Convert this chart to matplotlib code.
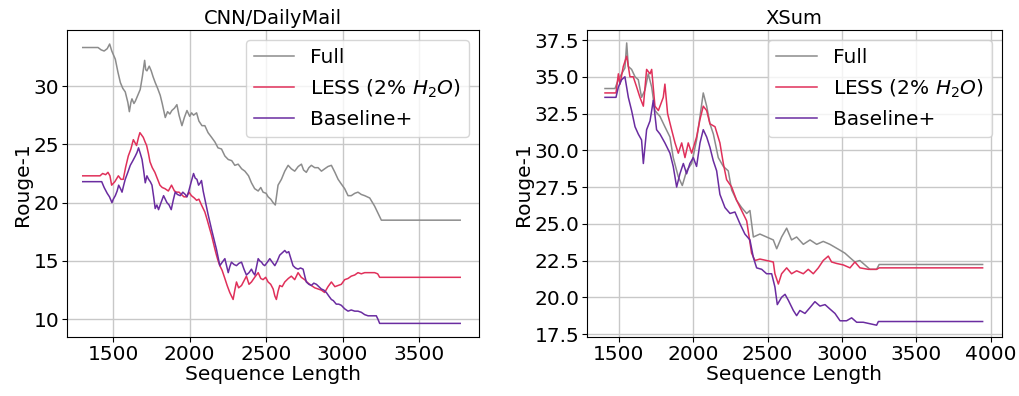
import matplotlib
matplotlib.use("Agg")
import matplotlib.pyplot as plt

# ---------------- CNN/DailyMail ----------------
cnn_full_x = [1300,1400,1420,1440,1460,1476,1490,1513,1530,1546,1562,1578,1595,1605,1615,1622,1635,1644,1660,1676,1690,1705,1712,1720,1735,1748,1760,1774,1790,1807,1820,1840,1855,1870,1883,1900,1916,1930,1949,1965,1982,2000,2012,2025,2045,2060,2080,2099,2120,2143,2165,2185,2208,2230,2252,2275,2295,2317,2340,2361,2385,2404,2425,2448,2465,2480,2500,2513,2530,2546,2560,2578,2600,2622,2644,2665,2687,2710,2731,2745,2763,2780,2796,2818,2840,2862,2883,2905,2927,2950,2971,2992,3014,3036,3057,3080,3101,3123,3145,3178,3210,3232,3254,3770]
cnn_full_y = [33.3,33.3,33.1,33.0,33.2,33.6,33.0,32.3,31.2,30.3,29.8,29.5,28.6,27.8,28.6,28.9,28.5,28.7,29.2,29.7,30.8,32.2,31.4,31.3,31.7,31.3,30.8,30.3,29.8,29.2,28.5,27.3,27.8,27.6,27.9,28.1,28.4,27.5,26.6,27.3,27.9,27.4,27.7,27.5,27.7,27.0,26.6,26.6,26.0,25.6,25.2,24.7,24.6,24.0,23.7,23.6,23.2,23.3,22.9,22.7,22.3,21.7,21.2,21.0,21.3,20.9,20.8,20.5,20.3,20.0,19.8,21.5,22.0,22.7,23.2,22.9,22.7,23.1,23.3,22.8,22.6,23.0,23.2,23.0,23.0,22.7,22.9,23.1,23.2,22.6,22.0,21.6,21.2,20.6,20.6,20.8,20.9,20.7,20.6,20.4,19.7,19.1,18.5,18.5]

cnn_less_x = [1300,1413,1430,1450,1465,1478,1489,1510,1533,1550,1565,1580,1598,1615,1631,1652,1665,1674,1685,1696,1708,1718,1730,1740,1755,1772,1790,1805,1820,1838,1860,1881,1900,1914,1930,1946,1962,1979,1995,2011,2030,2045,2060,2077,2099,2115,2132,2143,2154,2165,2175,2186,2197,2212,2230,2245,2262,2284,2295,2306,2320,2339,2355,2371,2388,2404,2425,2448,2465,2480,2497,2513,2530,2546,2557,2567,2578,2589,2605,2622,2645,2665,2687,2709,2730,2752,2775,2796,2818,2840,2862,2883,2905,2927,2950,2971,2992,3014,3036,3057,3080,3101,3123,3145,3178,3210,3230,3243,3770]
cnn_less_y = [22.3,22.3,22.5,22.4,22.6,22.3,21.5,21.8,22.3,22.0,22.0,23.0,24.0,24.6,25.4,24.9,25.6,26.0,25.8,25.6,25.2,24.9,24.2,23.5,23.0,22.6,22.0,21.5,21.3,21.2,21.0,21.5,21.0,20.9,20.9,20.7,20.5,20.5,20.9,20.6,20.4,20.2,20.3,19.8,19.2,18.5,17.7,17.2,16.6,16.0,15.5,15.0,14.6,14.2,13.5,12.9,12.3,11.7,12.5,13.2,12.7,12.9,13.3,13.7,13.0,13.2,13.6,14.0,13.5,13.4,13.6,13.2,13.0,12.6,12.0,11.7,12.4,12.9,12.8,13.2,13.5,13.7,13.4,14.0,13.6,13.4,13.1,12.9,12.7,12.6,12.5,12.3,12.8,13.2,12.8,12.9,13.0,13.4,13.5,13.7,13.8,14.0,13.9,14.0,14.0,14.0,13.9,13.6,13.6]

cnn_base_x = [1300,1424,1440,1460,1475,1491,1500,1513,1525,1535,1547,1557,1568,1578,1595,1611,1628,1644,1655,1665,1677,1688,1698,1709,1720,1731,1742,1753,1764,1774,1785,1796,1812,1829,1840,1851,1865,1879,1892,1905,1920,1938,1955,1971,1982,1992,2008,2025,2036,2047,2058,2069,2077,2088,2099,2120,2143,2160,2175,2186,2197,2213,2230,2241,2252,2262,2273,2290,2306,2322,2339,2355,2371,2388,2404,2415,2426,2437,2448,2459,2470,2480,2491,2508,2524,2540,2557,2573,2589,2605,2622,2635,2648,2662,2676,2692,2709,2725,2742,2753,2763,2780,2796,2812,2829,2845,2861,2878,2894,2910,2927,2940,2959,2975,2992,3014,3036,3057,3080,3101,3123,3145,3167,3190,3221,3232,3243,3770]
cnn_base_y = [21.8,21.8,21.3,20.8,20.5,20.0,20.3,20.6,21.0,21.5,21.2,20.9,21.5,22.0,22.6,23.2,23.6,24.0,24.3,24.7,24.2,23.7,22.8,21.7,22.3,22.0,21.8,21.5,20.5,19.5,19.8,19.4,20.0,20.6,20.3,20.0,19.8,19.4,20.2,20.9,20.7,20.6,20.9,20.7,20.5,20.9,21.7,22.5,22.1,22.0,21.5,21.7,21.9,21.0,20.3,19.0,17.7,16.8,16.0,15.3,14.6,14.9,15.2,14.6,14.0,14.5,14.9,14.7,14.6,14.8,14.9,14.3,13.8,14.0,14.3,14.0,13.8,14.5,15.2,15.0,14.9,14.7,14.6,14.9,15.2,14.9,14.6,15.0,15.5,15.7,15.9,15.7,15.8,15.2,14.6,14.4,14.3,14.4,14.3,13.7,13.2,13.0,12.9,13.1,13.0,12.8,12.6,12.5,12.3,12.0,11.7,11.6,11.3,11.3,11.2,10.9,10.7,10.8,10.7,10.7,10.6,10.4,10.3,10.3,10.3,10.0,9.65,9.65]

# ---------------- XSum ----------------
xsum_full_x = [1406,1473,1496,1518,1540,1552,1563,1585,1608,1630,1652,1675,1697,1720,1742,1776,1809,1843,1865,1899,1926,1955,1989,2022,2045,2067,2090,2112,2135,2168,2202,2235,2258,2291,2325,2359,2381,2404,2448,2493,2538,2561,2594,2628,2661,2695,2740,2785,2830,2874,2919,2953,2987,3020,3053,3087,3120,3143,3188,3233,3250,3946]
xsum_full_y = [34.2,34.2,34.8,35.2,35.6,37.3,35.7,35.5,35.0,34.8,33.6,34.1,35.2,34.3,32.7,32.3,31.6,30.9,29.5,28.2,27.6,28.6,29.1,30.7,32.3,33.9,33.0,31.8,31.1,29.5,28.9,28.6,27.3,26.6,26.1,25.7,25.9,24.1,24.3,24.1,23.9,23.3,24.1,24.7,23.9,24.1,23.6,23.9,23.6,23.8,23.6,23.4,23.2,23.0,22.7,22.4,22.5,22.3,21.9,21.9,22.23,22.23]

xsum_less_x = [1406,1480,1496,1507,1529,1552,1574,1596,1619,1641,1664,1686,1709,1720,1742,1765,1798,1809,1827,1854,1877,1899,1922,1944,1966,1989,2022,2045,2067,2090,2112,2146,2179,2202,2224,2258,2291,2325,2359,2392,2415,2448,2493,2538,2549,2572,2594,2628,2661,2695,2740,2773,2807,2841,2874,2908,2930,2964,3009,3054,3087,3121,3177,3233,3250,3946]
xsum_less_y = [33.9,33.9,35.2,34.5,35.7,36.4,35.0,35.0,34.3,33.6,33.0,35.5,35.2,35.5,33.0,32.7,33.6,34.5,32.5,31.4,30.5,29.8,30.5,29.5,30.5,29.8,30.9,32.1,33.0,32.7,31.8,31.6,30.5,29.1,28.0,27.5,26.6,25.9,25.2,23.0,22.5,22.6,22.5,22.4,21.6,20.9,21.6,22.0,21.6,21.8,21.6,21.9,21.6,22.0,22.5,22.8,22.4,22.3,22.2,22.0,22.4,22.0,21.9,21.9,22.0,22.0]

xsum_base_x = [1406,1480,1496,1518,1540,1563,1585,1608,1630,1652,1664,1686,1709,1731,1753,1776,1809,1843,1865,1888,1910,1933,1955,1977,2000,2022,2045,2067,2090,2112,2134,2157,2179,2213,2247,2280,2314,2347,2381,2404,2426,2460,2493,2527,2549,2565,2594,2617,2639,2673,2695,2717,2751,2785,2818,2852,2886,2919,2953,2987,3031,3065,3099,3143,3188,3233,3245,3946]
xsum_base_y = [33.6,33.6,34.3,34.8,35.0,33.6,32.7,31.6,31.1,30.7,29.1,31.4,32.0,33.4,31.4,31.1,30.5,29.8,28.9,27.5,28.4,29.1,28.4,29.1,29.5,28.9,30.5,31.4,30.9,30.2,29.3,28.6,27.0,26.1,25.7,25.8,25.0,24.3,23.9,22.7,22.0,21.9,21.6,21.6,20.7,19.5,20.0,20.2,19.8,19.1,18.75,19.1,18.9,19.3,19.7,19.4,19.5,19.2,18.9,18.4,18.4,18.6,18.3,18.3,18.2,18.1,18.35,18.35]

labels = ["Full", "LESS (2% $H_2O$)", "Baseline+"]
colors = ["#8c8c8c", "#e0305a", "#6a2ca0"]
titles = ["CNN/DailyMail", "XSum"]

FS = 14.5
fig = plt.figure(figsize=(10.2, 3.96), dpi=100)
ax1 = fig.add_axes([0.0654, 0.148, 0.4042, 0.7762])
ax2 = fig.add_axes([0.5752, 0.148, 0.4068, 0.7762])

panels = [
    (ax1, [(cnn_full_x, cnn_full_y), (cnn_less_x, cnn_less_y), (cnn_base_x, cnn_base_y)]),
    (ax2, [(xsum_full_x, xsum_full_y), (xsum_less_x, xsum_less_y), (xsum_base_x, xsum_base_y)]),
]
for (ax, series), title in zip(panels, titles):
    for (xs, ys), lab, col in zip(series, labels, colors):
        ax.plot(xs, ys, color=col, lw=1.1, label=lab)
    ax.grid(True, color="#c8c8c8", lw=1.0)
    ax.set_axisbelow(True)
    ax.set_title(title, fontsize=14, pad=4)
    ax.set_xlabel("Sequence Length", fontsize=FS, labelpad=1)
    ax.set_ylabel("Rouge-1", fontsize=FS, labelpad=1)
    ax.tick_params(labelsize=FS, pad=2)
    ax.legend(loc="upper right", fontsize=FS, framealpha=0.8)

ax1.set_xlim(1195, 3893)
ax1.set_ylim(8.45, 34.8)
ax1.set_xticks([1500, 2000, 2500, 3000, 3500])
ax1.set_yticks([10, 15, 20, 25, 30])

ax2.set_xlim(1283, 4074)
ax2.set_ylim(17.27, 38.18)
ax2.set_xticks([1500, 2000, 2500, 3000, 3500, 4000])
ax2.set_yticks([17.5, 20.0, 22.5, 25.0, 27.5, 30.0, 32.5, 35.0, 37.5])
ax2.set_yticklabels(["17.5", "20.0", "22.5", "25.0", "27.5", "30.0", "32.5", "35.0", "37.5"])

fig.savefig("out.png", dpi=100)
